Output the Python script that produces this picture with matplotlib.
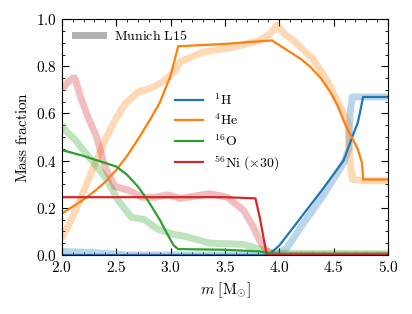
import numpy as np
import matplotlib
matplotlib.use("Agg")
import matplotlib.pyplot as plt
from matplotlib.lines import Line2D
from matplotlib.ticker import MultipleLocator, FuncFormatter

plt.rcParams["mathtext.fontset"] = "cm"
plt.rcParams["font.family"] = "serif"
plt.rcParams["font.serif"] = ["DejaVu Serif"]
plt.rcParams["font.size"] = 10

# model (solid lines)
m_h = [2.0, 3.9, 4.0, 4.2, 4.4, 4.59, 4.67, 4.72, 4.74, 4.77, 5.0]
x_h = [0.0, 0.0, 0.04, 0.16, 0.28, 0.40, 0.50, 0.56, 0.60, 0.67, 0.67]

m_he = [2.0, 2.1, 2.2, 2.3, 2.4, 2.5, 2.6, 2.7, 2.8, 2.9, 3.0, 3.07, 3.5, 3.93,
        4.0, 4.1, 4.2, 4.28, 4.38, 4.47, 4.54, 4.59, 4.63, 4.67, 4.72, 4.76, 4.77, 5.0]
x_he = [0.175, 0.205, 0.235, 0.27, 0.31, 0.36, 0.42, 0.49, 0.565, 0.645, 0.76, 0.885, 0.895, 0.91,
        0.89, 0.86, 0.83, 0.80, 0.75, 0.69, 0.63, 0.57, 0.53, 0.495, 0.45, 0.39, 0.32, 0.32]

m_o = [2.0, 2.2, 2.4, 2.5, 2.6, 2.7, 2.8, 2.9, 2.98, 3.03, 3.07, 3.5, 3.82, 3.95, 5.0]
x_o = [0.445, 0.42, 0.39, 0.375, 0.34, 0.29, 0.225, 0.15, 0.08, 0.04, 0.025, 0.022, 0.015, 0.005, 0.005]

m_ni = [2.0, 3.5, 3.78, 3.82, 3.88, 3.9, 5.0]
x_ni = [0.245, 0.245, 0.24, 0.16, 0.01, 0.0, 0.0]

# Munich L15 (faint lines)
mm_h = [2.0, 2.3, 2.6, 3.97, 4.07, 4.2, 4.4, 4.59, 4.64, 4.65, 4.67, 5.0]
xm_h = [0.015, 0.01, 0.0, 0.0, 0.03, 0.12, 0.25, 0.39, 0.45, 0.6, 0.67, 0.67]

mm_he = [2.0, 2.1, 2.2, 2.3, 2.4, 2.5, 2.58, 2.7, 2.83, 2.95, 3.04, 3.09, 3.3, 3.57, 3.82, 3.92, 3.98,
         4.04, 4.13, 4.31, 4.44, 4.58, 4.63, 4.65, 4.67, 4.77, 5.0]
xm_he = [0.07, 0.16, 0.27, 0.38, 0.49, 0.58, 0.64, 0.69, 0.71, 0.74, 0.78, 0.82, 0.86, 0.88, 0.91, 0.94, 0.975,
         0.94, 0.91, 0.83, 0.74, 0.61, 0.56, 0.40, 0.32, 0.315, 0.315]

mm_o = [2.0, 2.05, 2.12, 2.24, 2.4, 2.52, 2.64, 2.76, 2.88, 3.01, 3.15, 3.36, 3.67, 3.85, 3.95, 5.0]
xm_o = [0.55, 0.52, 0.49, 0.42, 0.33, 0.23, 0.16, 0.15, 0.11, 0.09, 0.077, 0.05, 0.045, 0.02, 0.008, 0.005]

mm_ni = [2.0, 2.05, 2.1, 2.12, 2.18, 2.24, 2.32, 2.4, 2.49, 2.61, 2.74, 2.86, 2.97, 3.09, 3.36, 3.52,
         3.67, 3.76, 3.82, 3.88, 3.95, 5.0]
xm_ni = [0.70, 0.73, 0.75, 0.75, 0.66, 0.585, 0.50, 0.37, 0.29, 0.275, 0.245, 0.245, 0.255, 0.24, 0.26, 0.245,
         0.19, 0.12, 0.06, 0.02, 0.0, 0.0]

colors = ["tab:blue", "tab:orange", "tab:green", "tab:red"]
labels = [r"$^{1}\mathrm{H}$", r"$^{4}\mathrm{He}$", r"$^{16}\mathrm{O}$", r"$^{56}\mathrm{Ni}\ (\times 30)$"]

fig = plt.figure(figsize=(4.12, 3.14), dpi=100)
ax = fig.add_axes([0.150, 0.188, 0.792, 0.751])

for (m, x), c in zip([(mm_h, xm_h), (mm_he, xm_he), (mm_o, xm_o), (mm_ni, xm_ni)], colors):
    ax.plot(m, x, color=c, alpha=0.3, lw=5, solid_capstyle="butt")

lines = []
for (m, x), c, l in zip([(m_h, x_h), (m_he, x_he), (m_o, x_o), (m_ni, x_ni)], colors, labels):
    ln, = ax.plot(m, x, color=c, lw=1.6, label=l)
    lines.append(ln)

ax.set_xlim(2.0, 5.0)
ax.set_ylim(0.0, 1.0)
ax.xaxis.set_major_locator(MultipleLocator(0.5))
ax.xaxis.set_minor_locator(MultipleLocator(0.1))
ax.yaxis.set_major_locator(MultipleLocator(0.2))
ax.yaxis.set_minor_locator(MultipleLocator(0.05))
ax.xaxis.set_major_formatter(FuncFormatter(lambda v, p: r"$%.1f$" % v))
ax.yaxis.set_major_formatter(FuncFormatter(lambda v, p: r"$%.1f$" % v))
ax.tick_params(which="both", direction="in", top=True, right=True, labelsize=11)
ax.tick_params(which="major", length=5)
ax.tick_params(which="minor", length=2.5)

ax.set_xlabel(r"$m\ [\mathrm{M}_{\odot}]$", fontsize=11)
ax.set_ylabel(r"$\mathrm{Mass\ fraction}$", fontsize=11)

leg1 = ax.legend(handles=lines, loc="center left", bbox_to_anchor=(0.31, 0.52),
                 frameon=False, fontsize=10, handlelength=2.0, labelspacing=0.35)
ax.add_artist(leg1)
munich = Line2D([], [], color="gray", alpha=0.6, lw=5)
ax.legend([munich], [r"$\mathrm{Munich\ L15}$"], loc="upper left", bbox_to_anchor=(0.01, 1.0),
          frameon=False, fontsize=10, handlelength=2.0, borderaxespad=0.3)

fig.savefig("out.png", dpi=100)
